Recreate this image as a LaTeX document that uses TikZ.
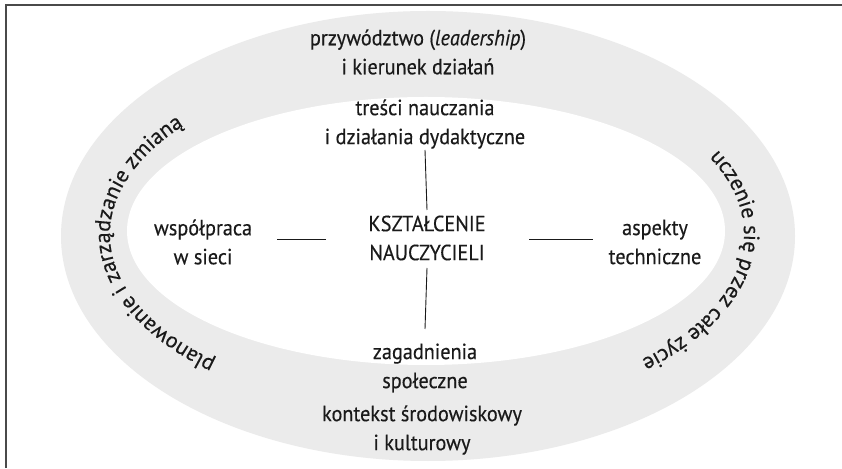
\documentclass[tikz,border=0pt]{standalone}
\usepackage{fontspec}
\setmainfont{PT Sans}[FakeStretch=0.92, FakeBold=0.3]
\newfontfamily\crvfam{PT Sans}[FakeBold=0.3]
\usetikzlibrary{decorations.text,calc}
\definecolor{ring}{HTML}{EBEBEB}
\definecolor{ink}{HTML}{1A1A1A}
\definecolor{framecol}{HTML}{4A4A4A}
\newcommand{\crvfont}{\crvfam\fontsize{22}{26}\selectfont}
\tikzset{
  lbl/.style={align=center, font=\fontsize{22}{29}\selectfont, text=ink, inner sep=0pt},
  conn/.style={draw=ink, line width=0.9pt},
}
\begin{document}
\begin{tikzpicture}[x=1pt,y=1pt]
\useasboundingbox (0,0) rectangle (842,468);
\fill[white] (0,0) rectangle (842,468);
\fill[ring] (428,232) ellipse [x radius=367, y radius=225];
\fill[white] (426,237) ellipse [x radius=299, y radius=134];
\draw[framecol, line width=1.5pt] (6,0) -- (6,463) -- (842,463);

\node[lbl] (lead) at (418,416) {przywództwo (\textit{leadership})\\i kierunek działań};
\node[lbl] (tresci) at (425,344) {treści nauczania\\i działania dydaktyczne};
\node[lbl] (center) at (427,230) {KSZTAŁCENIE\\NAUCZYCIELI};
\node[lbl] (wspol) at (203,226) {współpraca\\w sieci};
\node[lbl] (aspekty) at (655,226) {aspekty\\techniczne};
\node[lbl] (zagad) at (425,100) {zagadnienia\\społeczne};
\node[lbl] (kontekst) at (422,38) {kontekst środowiskowy\\i kulturowy};

\draw[conn] ([yshift=28pt]center.center) -- ([yshift=-26pt]tresci.center);
\draw[conn] ([yshift=-30pt]center.center) -- ([yshift=39pt]zagad.center);
\draw[conn] ($(center.center)+(-101,-1)$) -- ($(wspol.center |- center.center)+(74,-1)$);
\draw[conn] ($(center.center)+(102,-1)$) -- ($(aspekty.center |- center.center)+(-62,-1)$);

\path[decorate, decoration={text along path, text align=center,
  text={|\crvfont\color{ink}|planowanie i zarządzanie zmianą}}]
  (427,233.5) ++(250:317 and 170) arc[start angle=250, end angle=117, x radius=317, y radius=170];
\path[decorate, decoration={text along path, text align=center,
  text={|\crvfont\color{ink}|uczenie się przez całe życie}}]
  (427,233.5) ++(60:317 and 170) arc[start angle=60, end angle=-76, x radius=317, y radius=170];
\end{tikzpicture}
\end{document}
